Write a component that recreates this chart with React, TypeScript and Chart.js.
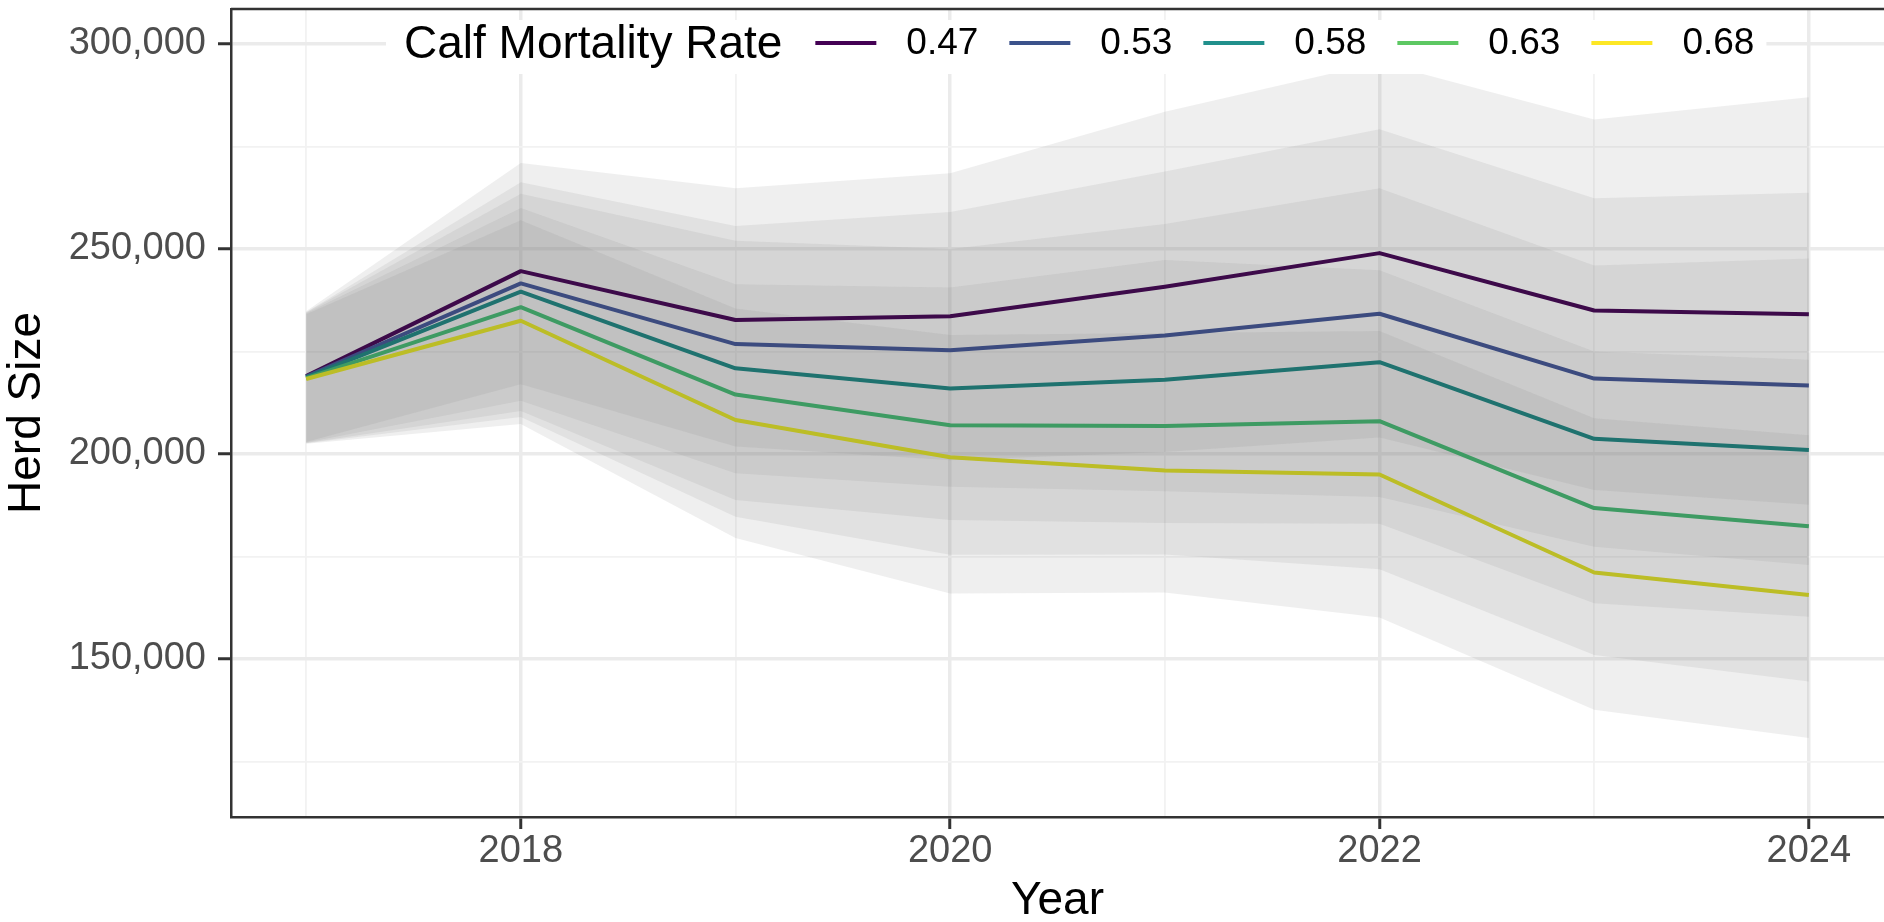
import React, { useEffect, useRef } from 'react';
import { Chart, registerables } from 'chart.js';

Chart.register(...registerables);

// ---------- data ----------
const years = [2017, 2018, 2019, 2020, 2021, 2022, 2023, 2024];
const rates = ['0.47', '0.53', '0.58', '0.63', '0.68'];
const legendTitle = 'Calf Mortality Rate';
const xTitle = 'Year';
const yTitle = 'Herd Size';
const xTicks = [2017, 2018, 2019, 2020, 2021, 2022, 2023, 2024];
const yTicks = [125000, 150000, 175000, 200000, 225000, 250000, 275000, 300000];

const mean047 = [219000, 244600, 232700, 233600, 240800, 249000, 235000, 234100];
const mean053 = [218900, 241600, 226800, 225300, 228900, 234200, 218400, 216700];
const mean058 = [218700, 239600, 220900, 216000, 218100, 222400, 203700, 201000];
const mean063 = [218500, 235800, 214500, 207000, 206800, 208000, 186800, 182400];
const mean068 = [218300, 232500, 208300, 199200, 196000, 195000, 171100, 165600];

const lower047 = [202900, 217000, 201800, 198500, 200500, 204000, 191200, 187600];
const upper047 = [234800, 271000, 264800, 268500, 283500, 295500, 281600, 287000];
const lower053 = [202800, 213000, 195300, 192000, 190900, 189500, 177400, 172900];
const upper053 = [234600, 266300, 255600, 259000, 268900, 279200, 262400, 263700];
const lower058 = [202700, 210500, 188800, 183900, 183200, 183000, 163600, 160300];
const upper058 = [234500, 263500, 252000, 250000, 256100, 264800, 246000, 247700];
const lower063 = [202600, 209000, 184700, 175400, 175500, 171900, 151000, 144500];
const upper063 = [234300, 260000, 241400, 240600, 247300, 244800, 225000, 223000];
const lower068 = [202500, 207300, 179500, 166000, 166200, 160100, 137600, 130700];
const upper068 = [234100, 257000, 235500, 229000, 229500, 230000, 208700, 204600];

const means = [mean047, mean053, mean058, mean063, mean068];
const lowers = [lower047, lower053, lower058, lower063, lower068];
const uppers = [upper047, upper053, upper058, upper063, upper068];

// ---------- styles ----------
const FONT = "'Liberation Sans', Arial, Helvetica, sans-serif";
const lineColors = ['#3d0a4a', '#3c4b7f', '#1f726f', '#3e9b63', '#bcbd26'];
const keyColors = ['#440154', '#3B528B', '#21908C', '#5DC863', '#FDE725'];
const ribbonFill = 'rgba(128,128,128,0.13)';

const W = 1884;
const H = 922;

const pts = (vals: number[]) => years.map((yr, i) => ({ x: yr, y: vals[i] }));

const insideLegend = {
  id: 'insideLegend',
  afterDatasetsDraw(chart: any) {
    const { ctx, chartArea } = chart;
    ctx.save();
    // top panel border
    ctx.strokeStyle = '#333333';
    ctx.lineWidth = 2.5;
    ctx.beginPath();
    ctx.moveTo(chartArea.left, chartArea.top);
    ctx.lineTo(chartArea.right, chartArea.top);
    ctx.stroke();

    const boxLeft = chartArea.left + 155;
    const boxTop = chartArea.top + 11;
    const boxBottom = chartArea.top + 65;
    ctx.font = `46px ${FONT}`;
    const titleW = ctx.measureText(legendTitle).width;
    ctx.font = `37px ${FONT}`;
    let x = boxLeft + 18;
    const titleX = x;
    x += titleW + 33;
    const items: { kx: number; tx: number; label: string; color: string }[] = [];
    let lastEnd = x;
    rates.forEach((r, i) => {
      const kx = x;
      const tx = kx + 61 + 30;
      const w = ctx.measureText(r).width;
      items.push({ kx, tx, label: r, color: keyColors[i] });
      lastEnd = tx + w;
      x = tx + w + 31;
    });
    const boxRight = lastEnd + 12;
    ctx.fillStyle = '#ffffff';
    ctx.fillRect(boxLeft, boxTop, boxRight - boxLeft, boxBottom - boxTop);

    const baseTitle = chartArea.top + 49;
    ctx.fillStyle = '#000000';
    ctx.textBaseline = 'alphabetic';
    ctx.textAlign = 'left';
    ctx.font = `46px ${FONT}`;
    ctx.fillText(legendTitle, titleX, baseTitle);
    ctx.font = `37px ${FONT}`;
    items.forEach((it) => {
      ctx.strokeStyle = it.color;
      ctx.lineWidth = 4;
      ctx.lineCap = 'butt';
      ctx.beginPath();
      ctx.moveTo(it.kx, chartArea.top + 34);
      ctx.lineTo(it.kx + 61, chartArea.top + 34);
      ctx.stroke();
      ctx.fillStyle = '#000000';
      ctx.fillText(it.label, it.tx, chartArea.top + 45);
    });
    ctx.restore();
  },
};

export default function App() {
  const ref = useRef<HTMLCanvasElement | null>(null);

  useEffect(() => {
    const canvas = ref.current;
    if (!canvas) return;

    const datasets: any[] = [];
    rates.forEach((r, i) => {
      datasets.push({
        label: r,
        data: pts(means[i]),
        borderColor: lineColors[i],
        backgroundColor: lineColors[i],
        borderWidth: 4,
        borderJoinStyle: 'round',
        pointRadius: 0,
        fill: false,
        tension: 0,
        order: 5 - i,
      });
    });
    rates.forEach((r, i) => {
      const upIndex = datasets.length;
      datasets.push({
        label: r + ' upper',
        data: pts(uppers[i]),
        borderColor: 'rgba(0,0,0,0)',
        borderWidth: 0,
        pointRadius: 0,
        backgroundColor: ribbonFill,
        fill: upIndex + 1,
        tension: 0,
        order: 10,
      });
      datasets.push({
        label: r + ' lower',
        data: pts(lowers[i]),
        borderColor: 'rgba(0,0,0,0)',
        borderWidth: 0,
        pointRadius: 0,
        fill: false,
        tension: 0,
        order: 10,
      });
    });

    const isMajorX = (v: number) => v % 2 === 0;
    const isMajorY = (v: number) => v % 50000 === 0;

    const chart = new Chart(canvas, {
      type: 'line',
      data: { datasets },
      plugins: [insideLegend],
      options: {
        animation: false,
        responsive: false,
        maintainAspectRatio: false,
        devicePixelRatio: 1,
        layout: { padding: { left: 0, right: 0, top: 9, bottom: 0 } },
        plugins: {
          legend: { display: false },
          tooltip: { enabled: false },
        },
        scales: {
          x: {
            type: 'linear',
            min: 2016.65,
            max: 2024.35,
            afterBuildTicks: (s: any) => {
              s.ticks = xTicks.map((v) => ({ value: v }));
            },
            afterFit: (s: any) => {
              s.height = 105;
              s.paddingLeft = 0;
              s.paddingRight = 0;
            },
            ticks: {
              autoSkip: false,
              maxRotation: 0,
              padding: 0,
              color: '#4D4D4D',
              font: { family: FONT, size: 38 },
              callback: (v: any) => (isMajorX(Number(v)) ? String(v) : ''),
            },
            grid: {
              color: (c: any) => (c.tick && isMajorX(c.tick.value) ? '#EBEBEB' : '#F2F2F2'),
              lineWidth: (c: any) => (c.tick && isMajorX(c.tick.value) ? 3.5 : 1.8),
              tickColor: (c: any) => (c.tick && isMajorX(c.tick.value) ? '#333333' : 'rgba(0,0,0,0)'),
              tickLength: 12,
              tickWidth: 3,
              drawTicks: true,
            },
            border: { display: true, color: '#333333', width: 2.5 },
            title: {
              display: true,
              text: xTitle,
              color: '#000000',
              padding: 0,
              font: { family: FONT, size: 46, lineHeight: 0.89 },
            },
          },
          y: {
            type: 'linear',
            min: 111460,
            max: 308540,
            afterBuildTicks: (s: any) => {
              s.ticks = yTicks.map((v) => ({ value: v }));
            },
            afterFit: (s: any) => {
              s.width = 231;
              s.paddingTop = 0;
              s.paddingBottom = 0;
            },
            ticks: {
              autoSkip: false,
              padding: 12,
              color: '#4D4D4D',
              font: { family: FONT, size: 38 },
              callback: (v: any) => (isMajorY(Number(v)) ? Number(v).toLocaleString('en-US') : ''),
            },
            grid: {
              color: (c: any) => (c.tick && isMajorY(c.tick.value) ? '#EBEBEB' : '#F2F2F2'),
              lineWidth: (c: any) => (c.tick && isMajorY(c.tick.value) ? 3.5 : 1.8),
              tickColor: (c: any) => (c.tick && isMajorY(c.tick.value) ? '#333333' : 'rgba(0,0,0,0)'),
              tickLength: 13,
              tickWidth: 3,
              drawTicks: true,
            },
            border: { display: true, color: '#333333', width: 2.5 },
            title: {
              display: true,
              text: yTitle,
              color: '#000000',
              padding: 0,
              font: { family: FONT, size: 46, lineHeight: 1.2 },
            },
          },
        },
      } as any,
    });

    return () => {
      chart.destroy();
    };
  }, []);

  return (
    <div style={{ position: 'absolute', left: 0, top: 0, width: W, height: H, background: '#ffffff' }}>
      <canvas ref={ref} width={W} height={H} style={{ display: 'block', width: W, height: H }} />
    </div>
  );
}
